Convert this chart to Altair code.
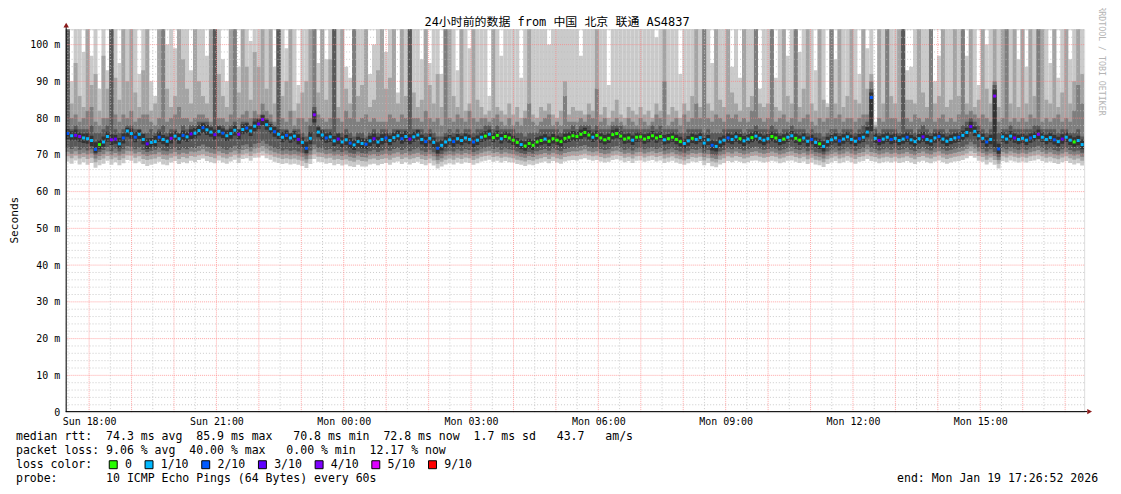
import altair as alt
import numpy as np
import pandas as pd

# ---------------- time frame (hours counted from Sun 00:00) ----------------
START_H = 17 + 26 / 60 + 52 / 3600      # Sun 17:26:52
SPAN_H = 24.0                           # end: Mon 17:26:52

# ---------------- median rtt (ms), one value per column ----------------
median_ms = [
    75.8,75.2,75.3,75.0,74.6,74.4,73.9,71.5,72.8,73.5,75.0,74.1,74.3,73.0,74.6,76.5,
    75.8,74.8,75.6,74.2,73.0,73.4,73.6,74.8,74.2,73.7,74.5,75.1,74.4,75.3,74.9,75.7,
    75.9,76.6,77.4,76.8,76.2,75.5,76.4,75.9,75.2,75.8,76.7,75.6,76.9,77.3,76.5,77.8,
    78.4,79.6,78.2,77.1,76.3,75.6,74.8,75.3,74.6,75.1,74.2,73.4,71.8,74.5,80.9,76.2,
    75.4,74.6,74.9,73.8,74.3,73.5,74.1,73.2,72.7,73.6,73.1,72.9,73.8,74.4,73.5,74.2,
    74.6,73.9,74.7,75.2,74.4,75.0,74.3,74.9,75.4,74.2,73.6,74.5,73.4,71.8,72.6,73.5,
    74.1,73.6,74.4,73.9,74.6,74.2,73.5,74.0,74.8,75.1,75.6,74.7,75.3,74.4,75.0,74.6,
    74.0,73.4,72.8,72.4,73.1,72.6,73.5,73.9,74.3,73.7,74.4,74.0,73.6,74.5,74.8,75.2,
    75.0,75.6,76.1,75.4,74.8,75.3,74.6,74.1,74.5,75.5,75.8,75.1,74.3,74.6,74.0,74.8,
    74.9,74.3,74.7,75.2,74.6,75.0,74.1,74.4,74.8,74.2,73.6,73.1,73.8,74.5,74.2,74.7,
    73.2,74.1,72.6,72.3,73.5,74.0,74.6,74.2,74.9,74.4,73.8,74.3,74.7,75.1,74.5,74.0,
    74.4,75.0,74.6,73.9,74.3,74.8,75.2,74.5,74.0,74.6,73.7,74.2,73.4,73.0,72.3,73.6,
    74.1,74.6,73.8,74.3,74.9,74.2,73.7,74.4,74.8,76.2,85.6,74.5,73.9,74.3,74.8,74.2,
    74.5,73.9,74.3,74.8,74.1,73.6,74.4,74.9,74.2,73.8,74.6,75.0,74.3,73.7,74.2,74.6,
    74.8,75.3,76.1,77.7,76.4,75.2,74.5,73.5,74.2,86.0,71.6,74.9,74.3,75.1,74.6,74.2,
    74.5,74.0,74.6,75.0,75.6,74.8,74.2,74.7,74.1,73.6,74.3,74.8,74.0,73.5,73.9,72.8,
]

# ---------------- packet loss (tenths of 10 pings) ----------------
loss_tenths = [
    2,1,3,4,1,1,1,2,0,1,1,4,3,1,2,1,
    1,2,1,1,3,1,1,2,1,1,4,1,1,2,1,3,
    1,1,2,1,1,3,1,2,1,1,1,4,1,2,1,1,
    3,4,1,1,2,1,1,2,1,1,3,1,2,1,4,1,
    1,2,1,1,3,1,1,2,1,1,1,2,1,3,1,1,
    2,1,1,1,2,1,3,1,1,1,2,1,1,2,1,1,
    1,2,1,1,1,1,2,1,1,0,1,0,0,1,0,0,
    0,0,1,0,0,0,0,0,1,0,0,0,0,0,0,0,
    0,0,0,0,1,0,0,0,0,0,0,0,0,0,1,0,
    0,0,0,0,0,0,1,0,0,0,0,1,1,0,1,1,
    1,1,2,1,1,1,2,1,1,0,1,1,0,1,1,1,
    1,0,0,1,0,1,1,0,0,1,1,2,1,0,1,1,
    1,1,2,1,1,1,1,2,1,1,2,1,3,1,1,2,
    1,1,1,2,1,1,1,3,1,1,1,2,1,1,1,1,
    2,1,1,3,1,1,1,2,1,4,2,1,1,1,3,1,
    1,1,2,1,4,1,1,1,2,1,3,1,1,0,1,1,
]

# ---------------- sorted ping times (ms): smoke edges ----------------
ping1 = [
    68.2,67.6,68.5,67.4,68.0,67.3,67.8,66.5,67.2,67.6,68.4,67.3,68.0,67.2,67.7,68.6,
    68.4,67.7,68.2,67.5,67.0,67.3,67.6,68.1,67.4,67.2,67.9,68.3,67.5,68.0,67.7,68.4,
    68.0,68.6,69.0,68.3,68.0,67.7,68.5,67.9,67.6,68.2,68.7,67.8,68.9,69.1,68.4,69.2,
    69.3,69.8,69.1,68.7,68.1,67.8,67.5,67.7,67.4,67.6,67.3,67.0,66.4,67.5,68.9,68.1,
    68.0,67.6,67.8,67.2,67.5,67.1,67.4,66.9,66.7,67.3,66.8,66.8,67.4,67.6,67.2,67.5,
    67.8,67.3,67.9,68.2,67.5,68.0,67.4,67.8,68.1,67.5,67.2,67.7,67.1,66.3,66.8,67.4,
    67.7,67.4,67.9,67.6,68.0,67.8,67.3,67.7,68.2,68.4,68.7,68.1,68.4,67.9,68.3,68.0,
    67.9,67.5,67.3,67.0,67.4,67.2,67.6,67.9,68.2,67.7,68.3,67.9,67.6,68.2,68.5,68.6,
    68.5,68.8,69.1,68.7,68.4,68.6,68.2,67.9,68.1,68.6,68.8,68.5,68.0,68.3,67.8,68.4,
    68.5,68.1,68.4,68.6,68.2,68.5,67.8,68.1,68.4,67.9,67.6,67.3,67.7,68.2,68.0,68.3,
    67.2,67.8,66.9,66.6,67.4,67.8,68.3,68.0,68.4,68.1,67.7,68.0,68.4,68.5,68.2,67.9,
    68.1,68.4,68.2,67.7,68.0,68.4,68.5,68.1,67.8,68.2,67.5,67.9,67.4,67.2,66.7,67.5,
    67.9,68.3,67.7,68.0,68.4,68.0,67.6,68.1,68.3,68.9,68.3,68.1,67.7,68.0,68.2,67.9,
    68.2,67.8,68.0,68.3,67.9,67.5,68.1,68.4,68.0,67.7,68.2,68.5,68.0,67.6,67.9,68.2,
    68.3,68.6,69.1,69.7,69.2,68.4,68.1,67.4,68.0,67.3,66.3,68.3,68.0,68.5,68.2,67.9,
    68.2,67.9,68.3,68.5,68.8,68.3,67.9,68.2,67.8,67.5,68.0,68.3,67.8,67.4,67.7,67.1,
]
ping2 = [
    69.6,69.1,69.8,69.0,69.4,68.9,69.2,68.0,68.6,69.0,69.7,68.8,69.3,68.6,69.1,69.9,
    69.8,69.2,69.6,68.9,68.6,68.8,69.0,69.5,68.9,68.7,69.2,69.6,68.9,69.4,69.1,69.7,
    69.5,69.9,70.2,69.7,69.4,69.1,69.8,69.3,69.0,69.5,70.0,69.2,70.1,70.4,69.7,70.4,
    70.6,71.0,70.4,70.0,69.5,69.2,68.9,69.1,68.8,69.0,68.7,68.4,67.8,68.9,70.2,69.5,
    69.4,69.0,69.2,68.7,68.9,68.6,68.8,68.4,68.1,68.7,68.3,68.2,68.8,69.0,68.6,68.9,
    69.1,68.7,69.2,69.5,68.9,69.3,68.8,69.1,69.4,68.9,68.6,69.0,68.5,67.6,68.1,68.7,
    69.0,68.7,69.2,68.9,69.3,69.1,68.6,69.0,69.5,69.7,69.9,69.4,69.6,69.2,69.5,69.3,
    69.1,68.7,68.5,68.2,68.6,68.4,68.8,69.1,69.4,68.9,69.5,69.1,68.8,69.4,69.6,69.8,
    69.7,70.0,70.3,69.9,69.6,69.8,69.4,69.1,69.3,69.8,70.0,69.7,69.2,69.5,69.0,69.6,
    69.7,69.3,69.6,69.8,69.4,69.7,69.0,69.3,69.6,69.1,68.8,68.5,68.9,69.4,69.2,69.5,
    68.5,69.1,68.2,67.9,68.7,69.1,69.6,69.3,69.7,69.4,69.0,69.3,69.7,69.8,69.5,69.2,
    69.4,69.7,69.5,69.0,69.3,69.7,69.8,69.4,69.1,69.5,68.8,69.2,68.7,68.5,68.0,68.8,
    69.2,69.6,69.0,69.3,69.7,69.3,68.9,69.4,69.6,70.2,69.6,69.4,69.0,69.3,69.5,69.2,
    69.5,69.1,69.3,69.6,69.2,68.8,69.4,69.7,69.3,69.0,69.5,69.8,69.3,68.9,69.2,69.5,
    69.6,69.9,70.4,71.0,70.5,69.7,69.4,68.7,69.3,68.6,67.6,69.6,69.3,69.8,69.5,69.2,
    69.5,69.2,69.6,69.8,70.1,69.6,69.2,69.5,69.1,68.8,69.3,69.6,69.1,68.7,69.0,68.4,
]
ping3 = [
    70.8,70.3,71.0,70.2,70.6,70.1,70.4,69.0,69.7,70.2,70.9,69.9,70.5,69.8,70.3,71.1,
    71.0,70.4,70.8,70.1,69.7,70.0,70.2,70.7,70.0,69.9,70.4,70.8,70.1,70.6,70.3,70.9,
    70.7,71.1,71.5,70.9,70.6,70.3,71.0,70.5,70.2,70.7,71.2,70.4,71.3,71.6,70.9,71.7,
    71.9,72.4,71.7,71.2,70.7,70.4,70.0,70.3,69.9,70.2,69.8,69.5,68.8,70.0,71.5,70.7,
    70.6,70.2,70.4,69.8,70.1,69.7,70.0,69.5,69.2,69.8,69.4,69.3,69.9,70.2,69.7,70.0,
    70.3,69.9,70.4,70.7,70.1,70.5,69.9,70.3,70.6,70.0,69.7,70.2,69.6,68.6,69.1,69.8,
    70.1,69.8,70.4,70.0,70.5,70.2,69.7,70.1,70.6,70.9,71.1,70.5,70.8,70.3,70.7,70.4,
    70.2,69.8,69.5,69.2,69.7,69.4,69.9,70.2,70.5,70.0,70.6,70.2,69.9,70.5,70.8,71.0,
    70.9,71.2,71.5,71.0,70.7,71.0,70.5,70.2,70.4,71.0,71.2,70.8,70.3,70.6,70.1,70.7,
    70.8,70.4,70.7,71.0,70.5,70.8,70.1,70.4,70.7,70.2,69.8,69.5,70.0,70.5,70.3,70.6,
    69.5,70.2,69.2,68.9,69.8,70.2,70.7,70.4,70.9,70.5,70.1,70.4,70.8,71.0,70.6,70.3,
    70.5,70.9,70.6,70.1,70.4,70.8,71.0,70.5,70.2,70.6,69.9,70.3,69.7,69.5,69.0,69.8,
    70.3,70.7,70.1,70.4,70.9,70.4,70.0,70.5,70.8,71.5,70.8,70.5,70.1,70.4,70.7,70.3,
    70.6,70.2,70.4,70.8,70.3,69.9,70.5,70.9,70.4,70.1,70.7,71.0,70.4,70.0,70.3,70.6,
    70.8,71.1,71.6,72.3,71.7,70.9,70.5,69.8,70.4,69.7,68.6,70.8,70.4,71.0,70.6,70.3,
    70.6,70.3,70.7,71.0,71.3,70.8,70.3,70.7,70.2,69.9,70.4,70.8,70.2,69.8,70.1,69.5,
]
ping4 = [
    72.0,71.6,72.3,71.4,71.8,71.2,71.5,70.0,70.8,71.3,72.1,71.0,71.7,70.9,71.5,72.4,
    72.2,71.5,72.0,71.3,70.8,71.1,71.4,71.9,71.2,71.0,71.6,72.0,71.3,71.8,71.5,72.1,
    71.9,72.4,72.8,72.2,71.8,71.5,72.3,71.7,71.4,71.9,72.5,71.6,72.6,72.9,72.1,73.0,
    73.2,73.8,73.0,72.5,71.9,71.6,71.2,71.5,71.1,71.4,70.9,70.6,69.8,71.2,72.8,71.9,
    71.8,71.4,71.6,70.9,71.3,70.8,71.2,70.6,70.3,70.9,70.5,70.4,71.0,71.4,70.8,71.2,
    71.5,71.1,71.6,71.9,71.3,71.7,71.0,71.5,71.8,71.2,70.8,71.4,70.7,69.6,70.2,70.9,
    71.2,70.9,71.5,71.1,71.6,71.3,70.8,71.2,71.7,72.0,72.3,71.6,72.0,71.4,71.8,71.5,
    71.3,70.9,70.5,70.2,70.8,70.4,71.0,71.3,71.6,71.1,71.7,71.3,71.0,71.6,71.9,72.2,
    72.0,72.4,72.7,72.2,71.8,72.1,71.6,71.3,71.5,72.2,72.4,71.9,71.4,71.7,71.2,71.8,
    71.9,71.5,71.8,72.1,71.6,71.9,71.2,71.5,71.8,71.3,70.9,70.6,71.1,71.6,71.4,71.7,
    70.6,71.3,70.2,69.9,70.9,71.3,71.8,71.5,72.0,71.6,71.2,71.5,71.9,72.2,71.7,71.4,
    71.6,72.0,71.7,71.2,71.5,71.9,72.2,71.6,71.3,71.7,71.0,71.4,70.8,70.6,70.0,70.9,
    71.4,71.8,71.2,71.5,72.0,71.5,71.1,71.6,71.9,72.8,72.0,71.6,71.2,71.5,71.8,71.4,
    71.7,71.3,71.5,71.9,71.4,71.0,71.6,72.0,71.5,71.2,71.8,72.1,71.5,71.1,71.4,71.7,
    71.9,72.2,72.8,73.6,72.9,72.0,71.6,70.9,71.5,70.8,69.5,71.9,71.5,72.1,71.7,71.4,
    71.7,71.4,71.8,72.1,72.5,71.9,71.4,71.8,71.3,71.0,71.5,71.9,71.3,70.9,71.2,70.6,
]
ping5 = [
    74.1,73.9,74.0,73.6,73.2,73.0,72.4,70.6,71.5,72.2,73.6,72.7,73.0,71.8,73.1,74.9,
    74.4,73.4,74.3,72.8,71.6,72.1,72.3,73.5,72.9,72.3,73.1,73.9,73.0,74.0,73.6,74.3,
    74.5,75.3,76.0,75.4,74.9,74.1,75.0,74.6,73.8,74.4,75.3,74.2,75.6,75.9,75.1,76.4,
    77.0,78.1,76.8,75.8,74.9,74.3,73.4,73.9,73.3,73.7,72.8,72.0,70.5,72.9,78.8,74.8,
    74.0,73.3,73.5,72.4,72.9,72.1,72.7,71.8,71.3,72.2,71.7,71.5,72.4,73.0,72.1,72.8,
    73.2,72.6,73.4,73.9,73.0,73.6,72.9,73.6,74.1,72.8,72.2,73.1,72.0,70.4,71.2,72.1,
    72.8,72.2,73.0,72.6,73.3,72.9,72.1,72.7,73.5,73.8,74.2,73.4,74.0,73.1,73.7,73.3,
    72.7,72.1,71.5,71.1,71.8,71.3,72.2,72.6,73.0,72.4,73.1,72.7,72.3,73.2,73.5,73.9,
    73.7,74.3,74.8,74.1,73.5,74.0,73.3,72.8,73.2,74.2,74.5,73.8,73.0,73.3,72.7,73.5,
    73.6,73.0,73.4,73.9,73.3,73.7,72.8,73.1,73.5,72.9,72.3,71.8,72.5,73.2,72.9,73.4,
    71.8,72.7,71.2,70.9,72.1,72.6,73.3,72.9,73.6,73.0,72.4,73.0,73.4,73.8,73.1,72.6,
    73.1,73.7,73.3,72.6,73.0,73.5,73.9,73.2,72.7,73.3,72.3,72.9,72.0,71.6,70.9,72.3,
    72.8,73.3,72.5,73.0,73.6,72.9,72.4,73.1,73.5,74.8,76.5,73.2,72.6,73.0,73.5,72.9,
    73.2,72.6,73.0,73.5,72.8,72.3,73.1,73.6,72.9,72.5,73.3,73.7,73.0,72.4,72.9,73.3,
    73.5,74.0,74.8,76.3,75.1,73.9,73.2,72.2,72.9,72.0,70.3,73.6,73.0,73.8,73.3,72.9,
    73.2,72.7,73.3,73.7,74.3,73.5,72.9,73.4,72.8,72.3,73.0,73.5,72.7,72.2,72.6,71.5,
]
ping6 = [
    77.0,76.4,76.9,76.1,75.8,76.0,75.2,73.4,74.1,75.0,76.3,75.6,75.4,74.6,75.9,77.4,
    77.1,76.2,76.8,75.7,74.5,74.6,75.1,76.3,75.4,75.0,75.9,76.4,75.8,76.6,76.1,77.0,
    77.3,78.0,78.6,78.1,77.5,76.9,77.8,77.2,76.6,77.1,78.0,76.9,78.3,78.6,77.8,79.1,
    79.7,80.8,79.5,78.4,77.6,76.9,76.2,76.6,75.9,76.5,75.6,74.8,73.6,76.2,82.1,77.5,
    76.7,75.9,76.2,75.1,75.8,74.8,75.4,74.6,74.0,74.9,74.5,74.3,75.2,75.8,74.9,75.6,
    75.9,75.3,76.0,76.6,75.7,76.4,75.6,76.2,76.8,75.5,74.9,75.8,74.7,73.4,74.0,74.9,
    75.4,74.9,75.7,75.2,75.9,75.5,74.8,75.3,76.1,76.4,76.9,76.0,76.6,75.7,76.3,75.9,
    75.2,74.6,74.0,73.7,74.4,73.9,74.8,75.2,75.6,75.0,75.7,75.3,74.9,75.8,76.1,76.5,
    76.3,76.9,77.4,76.7,76.1,76.6,75.9,75.4,75.8,76.8,77.1,76.4,75.6,75.9,75.3,76.1,
    76.2,75.6,76.0,76.5,75.9,76.3,75.4,75.7,76.1,75.5,74.9,74.4,75.1,75.8,75.5,76.0,
    74.6,75.4,74.0,73.7,74.8,75.3,75.9,75.5,76.2,75.7,75.1,75.6,76.0,76.4,75.8,75.3,
    75.7,76.3,75.9,75.2,75.6,76.1,76.5,75.8,75.3,75.9,75.0,75.5,74.7,74.4,73.7,74.9,
    75.4,75.9,75.1,75.6,76.2,75.5,75.0,75.7,76.1,77.6,87.0,75.8,75.2,75.6,76.1,75.5,
    75.8,75.2,75.6,76.1,75.4,74.9,75.7,76.2,75.5,75.1,75.9,76.3,75.6,75.0,75.5,75.9,
    76.1,76.6,77.4,79.0,77.7,76.5,75.8,74.8,75.5,87.8,73.0,76.2,75.6,76.4,75.9,75.5,
    75.8,75.3,75.9,76.3,76.9,76.1,75.5,76.0,75.4,74.9,75.6,76.1,75.3,74.8,75.2,74.2,
]
ping7 = [
    105,77,78,77,77,77,78,76,76,77,78,105,77,76,77,78,
    78,77,77,76,76,77,76,77,78,76,77,77,76,78,77,78,
    78,79,79,79,78,105,78,78,77,78,79,77,79,79,78,80,
    80,81,80,79,78,105,77,77,76,77,77,76,75,78,83,78,
    77,77,77,105,76,76,77,76,75,76,76,75,76,77,76,77,
    77,76,77,77,77,77,105,77,77,77,76,77,76,75,75,76,
    77,76,77,76,77,77,76,77,77,78,78,77,78,77,77,77,
    77,76,76,75,76,76,76,77,77,77,77,77,76,77,77,78,
    77,78,78,78,77,78,77,77,77,78,78,78,77,77,77,77,
    77,77,77,78,77,78,77,77,77,77,76,76,77,77,77,77,
    76,77,76,76,76,77,77,77,77,77,76,77,77,78,77,77,
    77,78,77,76,77,77,78,77,77,77,76,77,76,76,75,76,
    77,77,76,77,77,77,76,77,78,79,88,77,76,77,77,77,
    77,76,105,77,77,76,77,78,77,76,77,77,77,76,77,77,
    77,78,79,80,79,78,77,76,77,89,76,77,77,78,77,77,
    77,77,77,78,78,77,77,77,77,76,77,77,76,76,77,75,
]
ping8 = [
    105,80,81,79,80,82,83,79,78,80,80,105,81,79,81,80,
    82,79,80,81,81,79,78,80,105,79,80,81,83,80,80,79,
    80,81,81,80,79,105,80,80,79,81,105,80,81,82,80,82,
    81,84,82,81,79,105,80,79,82,78,80,80,79,80,105,81,
    80,79,80,105,80,79,82,80,105,79,80,81,79,80,79,79,
    79,81,80,79,81,80,105,80,80,79,82,80,79,80,78,105,
    80,79,81,80,79,82,80,79,80,80,79,80,81,79,78,80,
    78,79,78,80,84,79,78,79,80,81,78,79,78,86,79,79,
    79,80,79,81,80,88,79,80,78,79,80,79,78,80,79,78,
    80,79,78,79,81,80,90,78,79,80,78,81,79,80,84,80,
    105,80,79,81,80,79,81,80,81,79,80,79,82,105,80,79,
    80,105,79,80,81,79,80,105,79,80,81,79,78,80,79,80,
    105,80,81,79,80,80,79,80,81,81,90,77.5,80,79,105,80,
    80,79,105,80,79,81,80,79,80,105,79,80,81,79,80,79,
    81,105,81,82,81,80,81,80,79,90,79,80,105,79,80,79,
    80,79,81,80,105,79,80,79,80,81,79,80,79,82,89,84,
]
ping9 = [
    105,84,95,86,83,105,89,92,82,97,88,105,91,85,105,90,
    105,87,83,93,105,82,84,105,105,88,83,86,105,96,88,84,
    105,90,86,84,105,105,92,86,83,105,105,87,105,94,85,98,
    94,105,88,105,84,105,86,90,105,82,84,87,90,105,105,87,
    105,85,96,105,83,105,88,84,105,86,89,105,83,85,93,105,
    88,91,105,84,105,86,105,87,83,85,105,89,84,92,83,105,
    105,86,83,105,82,84,105,85,83,81,82,105,83,82,81,84,
    81,83,80,82,105,81,80,83,82,84,81,80,82,90,81,83,
    82,82,81,84,82,105,81,83,80,82,85,81,80,83,82,81,
    83,81,82,80,84,82,105,81,83,82,80,84,82,86,105,83,
    105,84,82,105,85,83,105,87,84,82,105,83,86,105,84,83,
    84,105,83,82,105,86,84,105,83,88,105,84,82,105,85,83,
    105,84,105,83,86,105,85,84,105,88,92,78,105,84,105,86,
    84,105,105,85,85,84,105,87,83,105,84,86,105,83,85,105,
    86,105,84,105,83,85,105,88,84,105,83,105,105,84,105,83,
    105,84,105,86,105,105,85,84,105,83,87,105,84,90,105,92,
]
ping10 = [
    105,90,105,105,98,105,97,105,88,105,93,105,105,95,105,105,
    105,105,92,105,105,90,86,105,105,100,105,99,105,105,105,93,
    105,105,105,97,105,105,105,96,90,105,105,94,105,105,101,105,
    105,105,105,105,94,105,105,99,105,105,89,105,105,105,105,95,
    105,96,105,105,105,105,94,91,105,105,105,105,92,100,105,105,
    98,105,105,87,105,105,105,105,105,96,105,95,105,105,92,105,
    105,105,93,105,105,99,105,105,105,105,86,105,105,97,105,105,
    105,105,91,105,105,105,105,105,105,100,105,105,105,105,105,105,
    105,97,105,105,105,105,105,105,89,105,105,105,105,105,105,105,
    105,105,105,105,102,105,105,105,105,105,92,105,105,105,105,105,
    105,105,95,105,105,105,105,94,105,91,105,105,105,105,88,105,
    105,105,91,105,105,97,105,105,98,105,105,105,93,105,105,84,
    105,96,105,105,105,105,105,92,105,99,105,79,105,105,105,105,
    105,105,105,93,94,105,105,105,105,105,90,97,105,105,105,105,
    105,105,97,105,105,89,105,100,105,105,105,105,105,105,105,96,
    105,94,105,105,105,105,105,95,105,91,105,105,96,105,105,105,
]

# ---------------- labels / legend ----------------
loss_labels = ["0", "1/10", "2/10", "3/10", "4/10", "5/10", "9/10"]
loss_colors = ["#26ff00", "#00b8ff", "#0059ff", "#5e00ff", "#7e00ff", "#dd00ff", "#ff0000"]
smoke_colors = ["#cacaca", "#a4a4a4", "#7e7e7e", "#585858", "#323232"]
x_label_hours = [18, 21, 24, 27, 30, 33, 36, 39]
y_label_ms = [0, 10, 20, 30, 40, 50, 60, 70, 80, 90, 100]
Y_TOP = 104.2

title_text = "24小时前的数据 from 中国 北京 联通 AS4837"
line_rtt = "median rtt:  74.3 ms avg  85.9 ms max   70.8 ms min  72.8 ms now  1.7 ms sd   43.7   am/s"
line_loss = "packet loss: 9.06 % avg  40.00 % max   0.00 % min  12.17 % now"
line_color = "loss color:"
line_probe = "probe:       10 ICMP Echo Pings (64 Bytes) every 60s"
line_end = "end: Mon Jan 19 17:26:52 2026"
watermark = "RRDTOOL / TOBI OETIKER"

MONO = "DejaVu Sans Mono"
TITLE_FONT = "DejaVu Sans Mono, Noto Sans CJK SC"
NB = "\u00a0"

series = [median_ms, loss_tenths, ping1, ping2, ping3, ping4, ping5, ping6, ping7, ping8, ping9, ping10]
n = len(median_ms)
assert all(len(s) == n for s in series), [len(s) for s in series]

step = SPAN_H / n
t0 = START_H + step * np.arange(n)
df = pd.DataFrame({
    "t0": t0, "t1": t0 + step, "tm": t0 + step / 2,
    "median": median_ms,
    "loss": ["0" if v == 0 else f"{v}/10" for v in loss_tenths],
    "p1": ping1, "p2": ping2, "p3": ping3, "p4": ping4, "p5": ping5,
    "p6": ping6, "p7": ping7, "p8": ping8, "p9": ping9, "p10": ping10,
})

W, H = 1024, 385
xs = alt.Scale(domain=[START_H, START_H + SPAN_H], nice=False, zero=False)
ys = alt.Scale(domain=[0, Y_TOP], nice=False)

# the same axis definition is given to every layer so that the shared axis merges cleanly
x_axis = alt.Axis(
    values=x_label_hours, title=None, grid=False, ticks=False, domain=False,
    labelExpr="(datum.value < 24 ? 'Sun ' : 'Mon ') + (datum.value % 24 < 10 ? '0' : '') + (datum.value % 24) + ':00'",
    labelFont=MONO, labelFontSize=10, labelColor="#000", labelPadding=4,
    labelFlush=False, labelOverlap=False, labelBaseline="top",
)
y_axis = alt.Axis(
    values=y_label_ms, title=None, grid=False, ticks=False, domain=False,
    labelExpr="datum.value == 0 ? '0' : datum.value + ' m'",
    labelFont=MONO, labelFontSize=10, labelColor="#000", labelPadding=6,
    labelFlush=False, labelOverlap=False,
)


def X(field):
    return alt.X(field, scale=xs, axis=x_axis)


def Y(field):
    return alt.Y(field, scale=ys, axis=y_axis)


layers = []
pairs = [("p1", "p10"), ("p2", "p9"), ("p3", "p8"), ("p4", "p7"), ("p5", "p6")]
for (lo, hi), col in zip(pairs, smoke_colors):
    layers.append(
        alt.Chart(df).mark_rect(color=col, clip=True).encode(
            x=X("t0:Q"), x2="t1:Q", y=Y(f"{lo}:Q"), y2=f"{hi}:Q",
        )
    )

# grid (drawn over the smoke, like rrdtool)
minor_y = pd.DataFrame({"v": [v for v in range(2, 105, 2) if v % 10]})
major_y = pd.DataFrame({"v": list(range(10, 101, 10))})
minor_x = pd.DataFrame({"v": [h + 0.5 for h in range(17, 42) if START_H < h + 0.5 < START_H + SPAN_H]})
major_x = pd.DataFrame({"v": [h for h in range(18, 42)]})

layers.append(alt.Chart(minor_y).mark_rule(color="#bdbdbd", strokeDash=[1, 2], strokeWidth=1, opacity=0.8)
              .encode(y=Y("v:Q")))
layers.append(alt.Chart(minor_x).mark_rule(color="#bdbdbd", strokeDash=[1, 2], strokeWidth=1, opacity=0.8)
              .encode(x=X("v:Q")))
layers.append(alt.Chart(major_y).mark_rule(color="#ff8080", strokeDash=[1, 1], strokeWidth=1, opacity=0.7)
              .encode(y=Y("v:Q")))
layers.append(alt.Chart(major_x).mark_rule(color="#ff8080", strokeDash=[1, 1], strokeWidth=1, opacity=0.7)
              .encode(x=X("v:Q")))

# median markers coloured by loss, with the loss legend
layers.append(
    alt.Chart(df).mark_square(size=9, opacity=1).encode(
        x=X("tm:Q"),
        y=Y("median:Q"),
        color=alt.Color(
            "loss:N",
            scale=alt.Scale(domain=loss_labels, range=loss_colors),
            legend=alt.Legend(
                orient="none", legendX=42, legendY=432, direction="horizontal",
                title=None, symbolType="square", symbolSize=64,
                symbolStrokeColor="#000", symbolStrokeWidth=1, symbolOpacity=1,
                labelFont=MONO, labelFontSize=11.6, labelColor="#000",
                labelOffset=6, columnPadding=10, padding=0, rowPadding=0,
            ),
        ),
    )
)

one = pd.DataFrame({"k": [0]})

# axis lines and arrows
layers.append(alt.Chart(one).mark_rule(color="#000", strokeWidth=1).encode(
    x=alt.value(0.5), y=alt.value(-3), y2=alt.value(385)))
layers.append(alt.Chart(one).mark_rule(color="#000", strokeWidth=1).encode(
    x=alt.value(0), x2=alt.value(1027), y=alt.value(384.5)))
layers.append(alt.Chart(one).mark_point(shape="triangle-up", filled=True, size=30, color="#8b1a1a", opacity=1).encode(
    x=alt.value(0.5), y=alt.value(-4)))
layers.append(alt.Chart(one).mark_point(shape="triangle-right", filled=True, size=30, color="#8b1a1a", opacity=1).encode(
    x=alt.value(1029.5), y=alt.value(384.5)))


def text_layer(s, x, y, align="left", size=11.6, font=MONO, color="#000", angle=0):
    return alt.Chart(one).mark_text(
        text=s.replace(" ", NB), align=align, baseline="middle", font=font,
        fontSize=size, color=color, angle=angle,
    ).encode(x=alt.value(x), y=alt.value(y))


layers.append(text_layer(title_text, 494, -7, align="center", size=12, font=TITLE_FONT))
layers.append(text_layer("Seconds", -51, 192, align="center", size=11.2, angle=270))
layers.append(text_layer(watermark, 1041, 32, align="center", size=8.3, color="#b4b4b4", angle=90))
layers.append(text_layer(line_rtt, -50, 410))
layers.append(text_layer(line_loss, -50, 424))
layers.append(text_layer(line_color, -50, 438))
layers.append(text_layer(line_probe, -50, 452))
layers.append(text_layer(line_end, 1038, 452, align="right"))

chart = alt.layer(*layers).properties(
    width=W, height=H,
    padding={"left": 58, "top": 20, "right": 29, "bottom": 73},
    autosize=alt.AutoSizeParams(type="none"),
).configure_view(stroke="transparent").configure(background="white")

chart.save("out.html", embed_options={"renderer": "svg", "actions": False})
